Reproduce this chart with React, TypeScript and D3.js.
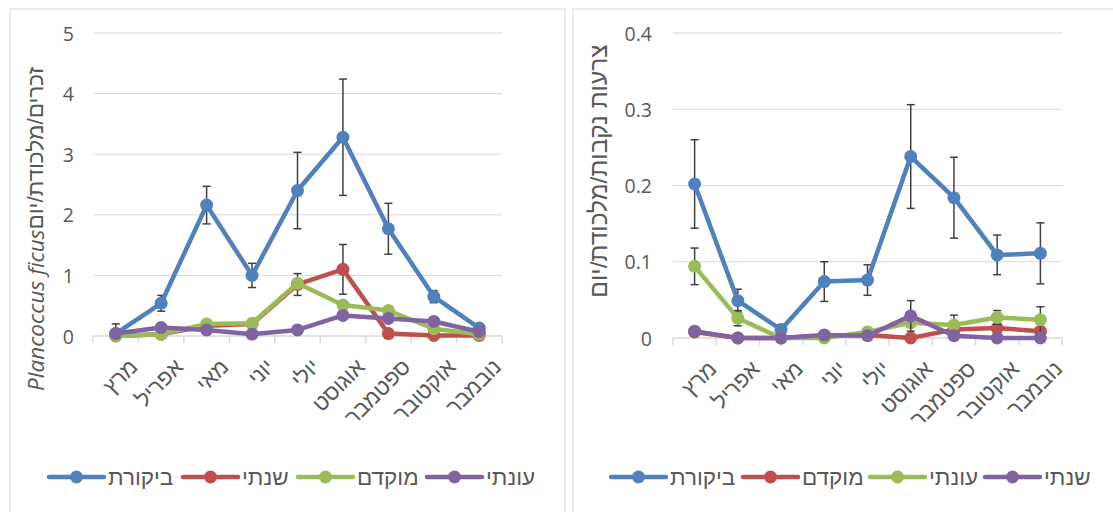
import React from 'react';
import * as d3 from 'd3';

// months (x categories), same for both charts
const months = ['מרץ', 'אפריל', 'מאי', 'יוני', 'יולי', 'אוגוסט', 'ספטמבר', 'אוקטובר', 'נובמבר'];

// left chart - males / trap / day
const maleTicks = [0, 1, 2, 3, 4, 5];
const maleControl = [0.04, 0.54, 2.16, 1.0, 2.4, 3.28, 1.77, 0.65, 0.13];
const maleControlErr = [0.16, 0.13, 0.31, 0.2, 0.63, 0.96, 0.42, 0.1, 0.03];
const maleAnnual = [0.0, 0.03, 0.17, 0.2, 0.85, 1.1, 0.04, 0.01, 0.01];
const maleAnnualErr = [0, 0, 0, 0, 0.18, 0.41, 0, 0, 0];
const maleFocal = [0.0, 0.03, 0.2, 0.21, 0.87, 0.51, 0.42, 0.12, 0.03];
const maleSeasonal = [0.04, 0.14, 0.1, 0.03, 0.1, 0.34, 0.29, 0.24, 0.07];

// right chart - female wasps / trap / day
const waspTicks = [0, 0.1, 0.2, 0.3, 0.4];
const waspControl = [0.202, 0.049, 0.011, 0.074, 0.076, 0.238, 0.184, 0.109, 0.111];
const waspControlErr = [0.058, 0.015, 0.006, 0.026, 0.02, 0.068, 0.053, 0.026, 0.04];
const waspFocal = [0.008, 0.0, 0.0, 0.003, 0.004, 0.0, 0.011, 0.013, 0.009];
const waspSeasonal = [0.094, 0.026, 0.0, 0.0, 0.008, 0.02, 0.017, 0.027, 0.024];
const waspSeasonalErr = [0.024, 0.01, 0, 0, 0, 0, 0.013, 0.009, 0.017];
const waspAnnual = [0.009, 0.0, 0.0, 0.004, 0.003, 0.029, 0.003, 0.0, 0.0];
const waspAnnualErr = [0, 0, 0, 0, 0, 0.02, 0, 0, 0];

const BLUE = '#4f81bd';
const RED = '#c0504d';
const GREEN = '#9bbb59';
const PURPLE = '#8064a2';
const TEXT = '#595959';
const GRID = '#d9d9d9';
const FONT = '"Open Sans", "Liberation Sans", "DejaVu Sans", sans-serif';
const FONT_HE = '"Liberation Sans", "DejaVu Sans", sans-serif';

interface Series {
  name: string;
  color: string;
  values: number[];
  errors?: number[];
}

interface PanelProps {
  box: [number, number, number, number];
  plot: { left: number; right: number; top: number; bottom: number };
  ticks: number[];
  tickFormat: (d: number) => string;
  tickLabelX: number;
  series: Series[];
  legendX: number[];
  legendY: number;
  title: React.ReactNode;
  titleX: number;
  titleY: number;
  titleSize: number;
}

const Panel = (props: PanelProps) => {
  const { box, plot, ticks, tickFormat, tickLabelX, series, legendX, legendY, title, titleX, titleY, titleSize } = props;

  const x = d3.scaleBand<string>()
    .domain(months)
    .range([plot.left, plot.right])
    .padding(0);
  const y = d3.scaleLinear()
    .domain([0, d3.max(ticks) || 1])
    .range([plot.bottom, plot.top]);

  const cx = (m: string) => (x(m) || 0) + x.bandwidth() / 2;
  const bounds = months.map(m => x(m) || 0).concat([plot.right]);

  const line = d3.line<number>()
    .x((_, i) => cx(months[i]))
    .y(d => y(d));

  return (
    <g>
      <rect x={box[0]} y={box[1]} width={box[2]} height={box[3]} fill="#fff" stroke={GRID} strokeWidth={1} />

      {/* gridlines + y labels */}
      {ticks.map(t => (
        <g key={t}>
          {t !== 0 && (
            <line x1={plot.left} x2={plot.right} y1={y(t)} y2={y(t)} stroke={GRID} strokeWidth={1} />
          )}
          <text x={tickLabelX} y={y(t)} textAnchor="end" dominantBaseline="central"
            fill={TEXT} fontSize={19.5} fontFamily={FONT}>{tickFormat(t)}</text>
        </g>
      ))}

      {/* x axis */}
      <line x1={plot.left} x2={plot.right} y1={plot.bottom} y2={plot.bottom} stroke={GRID} strokeWidth={1.5} />
      {bounds.map((b, i) => (
        <line key={i} x1={b} x2={b} y1={plot.bottom} y2={plot.bottom + 7} stroke={GRID} strokeWidth={1.5} />
      ))}
      {months.map(m => (
        <text key={m}
          transform={`translate(${cx(m) + 12},${plot.bottom + 21}) rotate(-45)`}
          textAnchor="end" dominantBaseline="hanging"
          fill={TEXT} fontSize={22} fontFamily={FONT_HE}>{m}</text>
      ))}

      {/* series */}
      {series.map(s => (
        <g key={s.name}>
          {s.errors && s.values.map((v, i) => {
            const e = s.errors![i];
            if (!e) return null;
            const px = cx(months[i]);
            const lo = y(Math.max(0, v - e));
            const hi = y(v + e);
            return (
              <g key={i} stroke="#404040" strokeWidth={1.5}>
                <line x1={px} x2={px} y1={lo} y2={hi} />
                <line x1={px - 4} x2={px + 4} y1={hi} y2={hi} />
                <line x1={px - 4} x2={px + 4} y1={lo} y2={lo} />
              </g>
            );
          })}
          <path d={line(s.values) || ''} fill="none" stroke={s.color} strokeWidth={4.5} strokeLinejoin="round" />
          {s.values.map((v, i) => (
            <circle key={i} cx={cx(months[i])} cy={y(v)} r={6.5} fill={s.color} />
          ))}
        </g>
      ))}

      {/* legend */}
      {series.map((s, i) => (
        <g key={s.name} transform={`translate(${legendX[i]},${legendY})`}>
          <line x1={0} x2={55} y1={0} y2={0} stroke={s.color} strokeWidth={4.5} strokeLinecap="round" />
          <circle cx={27.5} cy={0} r={6.5} fill={s.color} />
          <text x={59} y={0} dominantBaseline="central" fill={TEXT} fontSize={22.5} fontFamily={FONT_HE}>{s.name}</text>
        </g>
      ))}

      {/* y axis title */}
      <text transform={`translate(${titleX},${titleY}) rotate(-90)`} textAnchor="middle" dominantBaseline="central"
        fill={TEXT} fontSize={titleSize} fontFamily={FONT_HE} direction="rtl">{title}</text>
    </g>
  );
};

export default function App() {
  const leftSeries: Series[] = [
    { name: 'ביקורת', color: BLUE, values: maleControl, errors: maleControlErr },
    { name: 'שנתי', color: RED, values: maleAnnual, errors: maleAnnualErr },
    { name: 'מוקדם', color: GREEN, values: maleFocal },
    { name: 'עונתי', color: PURPLE, values: maleSeasonal },
  ];
  const rightSeries: Series[] = [
    { name: 'ביקורת', color: BLUE, values: waspControl, errors: waspControlErr },
    { name: 'מוקדם', color: RED, values: waspFocal },
    { name: 'עונתי', color: GREEN, values: waspSeasonal, errors: waspSeasonalErr },
    { name: 'שנתי', color: PURPLE, values: waspAnnual, errors: waspAnnualErr },
  ];

  return (
    <svg width={1113} height={512} style={{ position: 'absolute', left: 0, top: 0, background: '#fff' }}>
      <Panel
        box={[10, 9, 555, 520]}
        plot={{ left: 93, right: 502, top: 33, bottom: 336 }}
        ticks={maleTicks}
        tickFormat={d => String(d)}
        tickLabelX={74}
        series={leftSeries}
        legendX={[49, 183, 298, 427]}
        legendY={477}
        title={<>
          <tspan>זכרים/מלכודת/יום</tspan>
          <tspan fontStyle="italic" fontFamily={FONT}>Plancoccus ficus</tspan>
        </>}
        titleX={35}
        titleY={229}
        titleSize={22.5}
      />
      <Panel
        box={[573, 9, 560, 520]}
        plot={{ left: 673, right: 1062, top: 33, bottom: 338 }}
        ticks={waspTicks}
        tickFormat={d => (d === 0 ? '0' : d3.format('.1f')(d))}
        tickLabelX={652}
        series={rightSeries}
        legendX={[611, 743, 870, 985]}
        legendY={477}
        title={<tspan>צרעות נקבות/מלכודת/יום</tspan>}
        titleX={598}
        titleY={171}
        titleSize={24.5}
      />
    </svg>
  );
}
